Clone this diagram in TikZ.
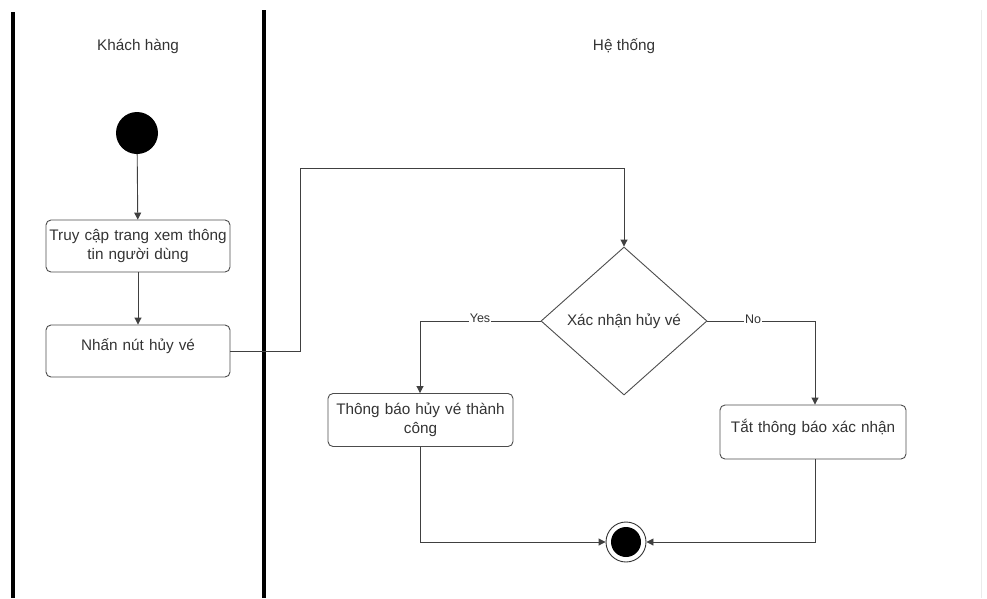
\documentclass[tikz,border=0pt]{standalone}
\usepackage{fontspec}
\setmainfont{Liberation Sans}
\usetikzlibrary{shapes.geometric,arrows.meta}
\begin{document}
\begin{tikzpicture}[x=1pt,y=-1pt,
  txt/.style={font=\fontsize{15.3}{19}\selectfont, text=black!80},
  act/.style={draw=black!70, line width=0.9pt, rounded corners=5pt, txt, align=center, inner sep=1pt},
  flow/.style={draw=black!75, line width=0.9pt, -{Triangle[length=7pt,width=7pt]}},
  lane/.style={line width=3.5pt, black}]
  \useasboundingbox (0,0) rectangle (987,598);
  % swimlane separators
  \draw[lane] (13,12) -- (13,598);
  \draw[lane] (264,10) -- (264,598);
  \draw[black!8, line width=0.8pt] (981,10) -- (981,598);
  \node[txt] (laneA) at (138,46) {Khách hàng};
  \node[txt] (laneB) at (624,46) {Hệ thống};
  % start
  \node[circle, fill=black, minimum size=42pt, inner sep=0] (start) at (137,133) {};
  % actions
  \node[act, minimum width=184pt, minimum height=52pt, text width=182pt] (a1) at (138,246) {Truy cập trang xem thông\\tin người dùng};
  \node[act, minimum width=184pt, minimum height=52pt, text width=182pt] (a2) at (138,351) {\raisebox{13pt}{Nhấn nút hủy vé}};
  \node[diamond, draw=black!70, line width=0.9pt, minimum width=166pt, minimum height=148pt, inner sep=0, txt] (dec) at (624,321) {Xác nhận hủy vé};
  \node[act, minimum width=185pt, minimum height=53pt, text width=182pt] (a3) at (420.5,420) {Thông báo hủy vé thành\\công};
  \node[act, minimum width=186pt, minimum height=54pt, text width=182pt] (a4) at (813,432) {\raisebox{12pt}{Tắt thông báo xác nhận}};
  % end
  \node[circle, draw=black!80, line width=0.9pt, minimum size=40pt, inner sep=0] (stop) at (626,542) {};
  \fill[black] (stop.center) circle (15pt);
  % bend points
  \coordinate (b1) at (300,351);
  \coordinate (b2) at (300,168);
  \coordinate (b3) at (624,168);
  \coordinate (y1) at (420,321);
  \coordinate (n1) at (815,321);
  \coordinate (e1) at (420,542);
  \coordinate (e2) at (815,542);
  % connectors
  \draw[flow] (start) -- (a1);
  \draw[flow] (a1) -- (a2);
  \draw[flow] (a2.east) -- (b1) -- (b2) -- (b3) -- (dec.north);
  \draw[flow] (dec.west) -- (y1) -- (y1 |- a3.north);
  \draw[flow] (dec.east) -- (n1) -- (n1 |- a4.north);
  \draw[flow] (a3.south -| e1) -- (e1) -- (stop.west);
  \draw[flow] (a4.south -| e2) -- (e2) -- (stop.east);
  \node[txt, fill=white, inner sep=1pt, font=\fontsize{12.5}{14}\selectfont] (yes) at (480,318) {Yes};
  \node[txt, fill=white, inner sep=1pt, font=\fontsize{12.5}{14}\selectfont] (no) at (753,319) {No};
\end{tikzpicture}
\end{document}
